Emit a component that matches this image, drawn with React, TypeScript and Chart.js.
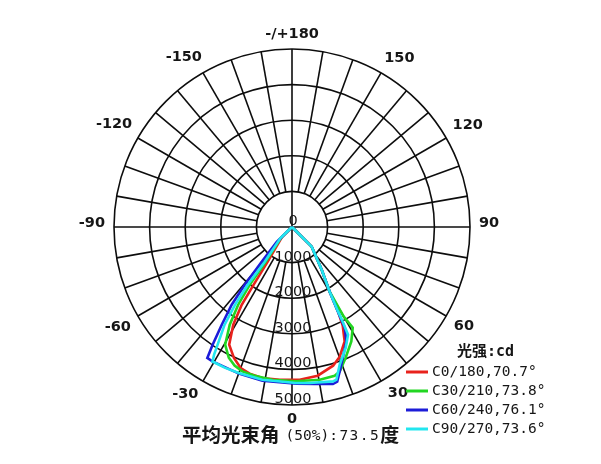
import React, { useEffect, useRef } from "react";
import { Chart, registerables } from "chart.js";

Chart.register(...registerables);

// ---------------- data ----------------
const ringValues = [1000, 2000, 3000, 4000, 5000];
const radialTickValues = [0, 1000, 2000, 3000, 4000, 5000];
const radialTickLabels = ["0", "1000", "2000", "3000", "4000", "5000"];
const angleTickValues = [180, 150, 120, 90, 60, 30, 0, -30, -60, -90, -120, -150];
const angleTickLabels = ["-/+180", "150", "120", "90", "60", "30", "0", "-30", "-60", "-90", "-120", "-150"];
const spokeStepDeg = 10;

const seriesNames = ["C0/180,70.7°", "C30/210,73.8°", "C60/240,76.1°", "C90/270,73.6°"];
const seriesColors = ["#e8221c", "#22d622", "#1c1cd8", "#22e6ef"];
const legendTitle = "光强:cd";
const footerParts = ["平均光束角", "(50%)", ":73.5", "度"];

// gamma angle (deg, 0 = straight down, + toward right) and intensity (cd)
const c0Angles = [-45.5, -45.0, -35.0, -33.6, -32.9, -31.0, -28.1, -23.9, -20.0, -16.1, -11.1, -4.6, 2.9, 9.8, 16.5, 20.2, 24.7, 27.2, 28.6, 30.2, 34.8, 45, 45.5];
const c0Cd = [0, 400, 1190, 1945, 2600, 3203, 3747, 4024, 4215, 4289, 4322, 4303, 4295, 4239, 4063, 3882, 3538, 3117, 2700, 2103, 1461, 782, 0];

const c30Angles = [-46, -45.5, -37.2, -36.2, -34.7, -32.5, -29.6, -25.8, -22.5, -19.0, -14.1, -7.3, 1.4, 10.3, 16.0, 18.3, 22.3, 27.4, 31.1, 30.0, 30.2, 34.8, 45, 45.5];
const c30Cd = [0, 450, 1225, 2010, 2655, 3255, 3801, 4079, 4215, 4289, 4306, 4325, 4333, 4359, 4346, 4272, 3969, 3621, 3303, 2908, 2103, 1461, 782, 0];

const c60Angles = [-46, -45.5, -41.1, -39.3, -37.8, -35.7, -34.0, -32.9, -30.6, -19.9, -10.9, 1.6, 8.2, 14.6, 16.3, 19.7, 25.4, 27.6, 28.7, 30.2, 34.8, 45, 45.5];
const c60Cd = [0, 600, 1294, 2096, 2763, 3381, 3987, 4380, 4388, 4381, 4397, 4403, 4456, 4558, 4527, 4109, 3558, 3200, 2595, 2103, 1461, 782, 0];

const c90Angles = [-46.5, -46.0, -38.2, -37.5, -36.2, -34.6, -32.3, -31.4, -30.6, -25.6, -20.0, -11.0, 1.4, 6.5, 14.9, 16.2, 19.1, 24.0, 27.5, 28.2, 28.6, 30.2, 34.8, 45, 45.5];
const c90Cd = [0, 450, 1240, 2043, 2704, 3333, 3910, 4200, 4388, 4381, 4363, 4369, 4383, 4410, 4487, 4467, 4094, 3711, 3410, 3017, 2700, 2103, 1461, 782, 0];

// ---------------- helpers ----------------
const toXY = (angles: number[], cd: number[]) =>
  angles.map((a, i) => {
    const t = (a * Math.PI) / 180;
    return { x: cd[i] * Math.sin(t), y: -cd[i] * Math.cos(t) };
  });

const MONO = "'DejaVu Sans Mono', monospace";
const SANS = "'DejaVu Sans', sans-serif";
const CJK = "'Noto Sans CJK SC', 'Noto Sans', sans-serif";
const INK = "#161616";

const polarPlugin = {
  id: "polarGrid",
  beforeDatasetsDraw(chart: any) {
    const { ctx, scales } = chart;
    const xs = scales.x;
    const ys = scales.y;
    const cx = xs.getPixelForValue(0);
    const cy = ys.getPixelForValue(0);
    const rad = (v: number) => xs.getPixelForValue(v) - cx;
    const rIn = rad(ringValues[0]);
    const rOut = rad(ringValues[ringValues.length - 1]);
    ctx.save();
    ctx.strokeStyle = "#0d0d0d";
    ctx.lineWidth = 1.6;
    for (const v of ringValues) {
      ctx.beginPath();
      ctx.arc(cx, cy, rad(v), 0, Math.PI * 2);
      ctx.stroke();
    }
    for (let a = 0; a < 360; a += spokeStepDeg) {
      const t = (a * Math.PI) / 180;
      const s = a % 90 === 0 ? 0 : rIn;
      const dx = Math.sin(t);
      const dy = Math.cos(t);
      ctx.beginPath();
      ctx.moveTo(cx + dx * s, cy + dy * s);
      ctx.lineTo(cx + dx * rOut, cy + dy * rOut);
      ctx.stroke();
    }
    // radial tick labels
    ctx.fillStyle = INK;
    ctx.font = `14.5px ${SANS}`;
    ctx.textAlign = "center";
    ctx.textBaseline = "alphabetic";
    radialTickValues.forEach((v, i) => {
      ctx.fillText(radialTickLabels[i], cx + 1, cy + rad(v) - 2);
    });
    ctx.restore();
  },
  afterDatasetsDraw(chart: any) {
    const { ctx, scales } = chart;
    const xs = scales.x;
    const ys = scales.y;
    const cx = xs.getPixelForValue(0);
    const cy = ys.getPixelForValue(0);
    const rOut = xs.getPixelForValue(ringValues[ringValues.length - 1]) - cx;
    ctx.save();
    // angle labels
    ctx.fillStyle = INK;
    ctx.font = `bold 14.5px ${SANS}`;
    ctx.textAlign = "center";
    ctx.textBaseline = "middle";
    const halfH = 5.5;
    angleTickValues.forEach((a, i) => {
      const oblique = Math.abs(a) === 30 || Math.abs(a) === 150;
      const shift = oblique ? (Math.abs(a) === 30 ? 2.5 : -2.5) * Math.sign(a) : 0;
      const t = ((a + shift) * Math.PI) / 180;
      const dx = Math.sin(t);
      const dy = Math.cos(t);
      const w = ctx.measureText(angleTickLabels[i]).width / 2;
      const ext = Math.abs(dx) * w + Math.abs(dy) * halfH;
      const d = rOut + 9 + ext;
      const yAdj = Math.abs(a) === 90 ? -4 : 0;
      ctx.fillText(angleTickLabels[i], cx + dx * d, cy + dy * d + yAdj);
    });

    // legend
    const lx = 406;
    const ly = 372;
    const step = 19;
    ctx.textAlign = "left";
    ctx.textBaseline = "middle";
    ctx.font = `bold 15px ${MONO}, ${CJK}`;
    ctx.fillText(legendTitle, 457, ly - 20);
    ctx.font = `14.5px ${MONO}`;
    seriesNames.forEach((name, i) => {
      const y = ly + i * step;
      ctx.strokeStyle = seriesColors[i];
      ctx.lineWidth = 3;
      ctx.beginPath();
      ctx.moveTo(lx, y);
      ctx.lineTo(lx + 22, y);
      ctx.stroke();
      ctx.fillStyle = INK;
      ctx.fillText(name, lx + 26, y);
    });

    // footer
    const fy = 435;
    let fx = 182;
    ctx.font = `bold 19.5px ${CJK}`;
    ctx.fillText(footerParts[0], fx, fy);
    fx += ctx.measureText(footerParts[0]).width + 6;
    ctx.font = `14.5px ${MONO}`;
    ctx.fillText(footerParts[1], fx, fy + 1);
    fx += ctx.measureText(footerParts[1]).width;
    (ctx as any).letterSpacing = "1.5px";
    ctx.font = `14.5px ${MONO}`;
    ctx.fillText(footerParts[2], fx, fy + 1);
    fx += ctx.measureText(footerParts[2]).width;
    (ctx as any).letterSpacing = "0px";
    ctx.font = `bold 19px ${CJK}`;
    ctx.fillText(footerParts[3], fx, fy);
    ctx.restore();
  },
};

export default function App() {
  const ref = useRef<HTMLCanvasElement | null>(null);
  useEffect(() => {
    document.body.style.margin = "0";
    const canvas = ref.current;
    if (!canvas) return;
    const mk = (i: number, a: number[], c: number[], order: number) => ({
      label: seriesNames[i],
      data: toXY(a, c),
      borderColor: seriesColors[i],
      backgroundColor: seriesColors[i],
      showLine: true,
      pointRadius: 0,
      borderWidth: 2.6,
      fill: false,
      tension: 0,
      order,
    });
    const chart = new Chart(canvas, {
      type: "scatter",
      data: {
        datasets: [
          mk(0, c0Angles, c0Cd, 3),
          mk(1, c30Angles, c30Cd, 2),
          mk(2, c60Angles, c60Cd, 1),
          mk(3, c90Angles, c90Cd, 0),
        ],
      },
      options: {
        animation: false,
        responsive: false,
        maintainAspectRatio: false,
        events: [],
        layout: { padding: { left: 114, right: 131, top: 49, bottom: 59 } },
        scales: {
          x: { type: "linear", min: -5000, max: 5000, display: false },
          y: { type: "linear", min: -5000, max: 5000, display: false },
        },
        plugins: { legend: { display: false }, tooltip: { enabled: false } },
      },
      plugins: [polarPlugin],
    } as any);
    return () => chart.destroy();
  }, []);
  return (
    <div style={{ position: "fixed", left: 0, top: 0, width: 601, height: 464, background: "#fff" }}>
      <canvas ref={ref} width={601} height={464} style={{ width: 601, height: 464, display: "block" }} />
    </div>
  );
}
